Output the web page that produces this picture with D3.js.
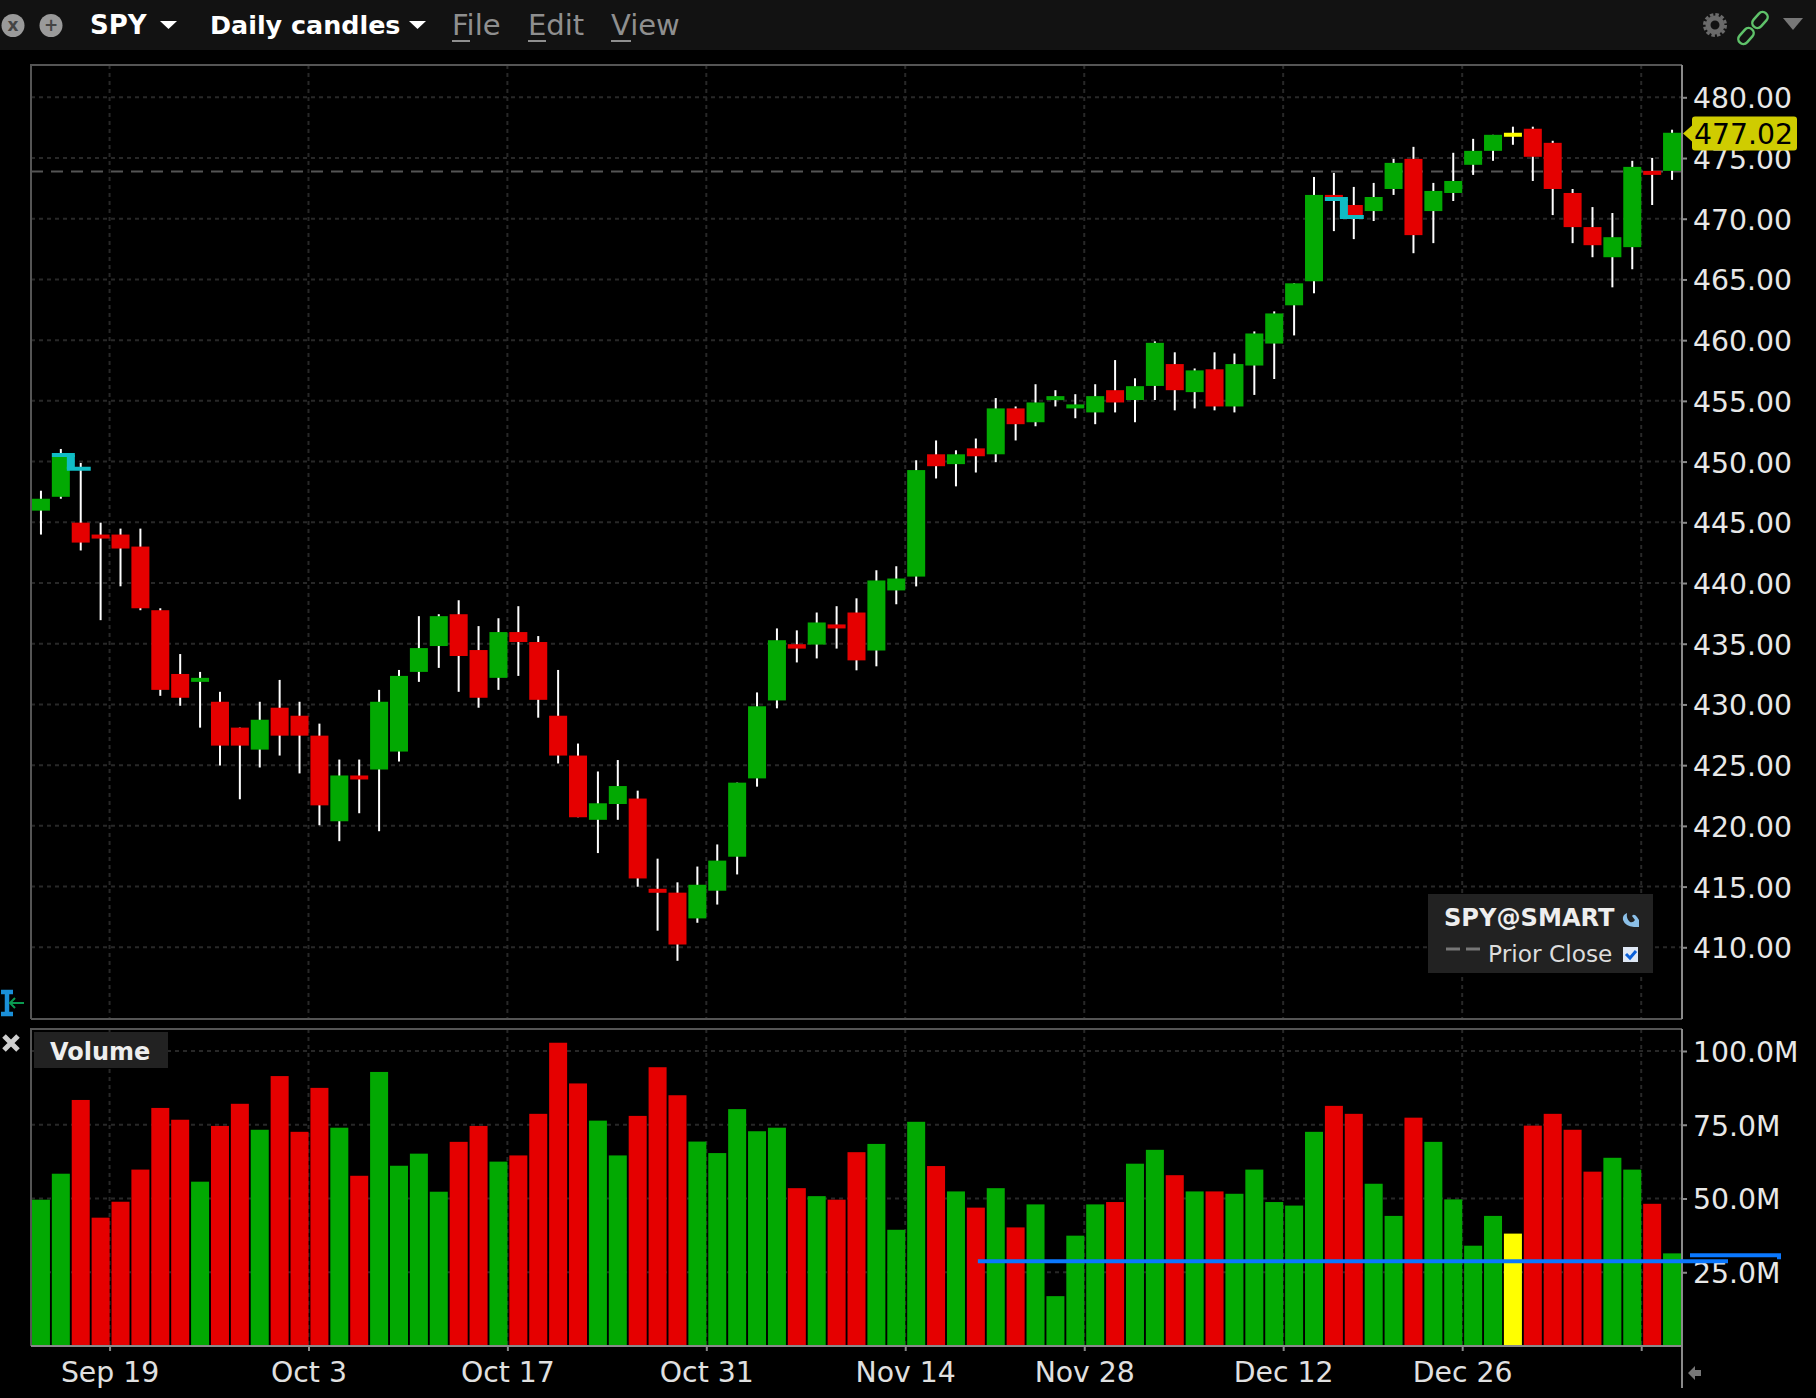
<!DOCTYPE html>
<html><head><meta charset="utf-8">
<script src="https://cdn.jsdelivr.net/npm/d3@7"></script>
<style>
html,body{margin:0;padding:0;background:#000;}
svg{display:block;}
text{font-family:"DejaVu Sans",sans-serif;}
</style></head><body>
<div id="chart"></div>
<script>
// ---- data ----
const opens  = [445.96,447.10,444.97,443.99,443.99,443.00,437.76,432.51,431.86,430.22,428.09,426.28,429.73,429.07,427.43,420.38,424.15,424.64,426.12,432.68,434.81,437.43,434.48,432.19,435.96,435.14,429.07,425.79,420.50,421.80,422.25,414.82,414.50,412.38,414.66,417.46,423.91,430.33,434.96,434.93,436.59,437.57,434.44,439.39,440.53,450.60,449.79,451.09,450.60,454.38,453.24,455.07,454.38,454.05,455.88,455.07,456.23,458.03,455.72,457.60,454.54,457.91,459.72,462.87,464.85,471.96,471.13,470.63,472.45,474.93,470.63,472.12,474.44,475.59,476.75,477.41,476.25,472.12,469.31,466.83,467.66,473.94,473.94];
const closes = [446.94,450.38,443.33,443.66,442.84,437.92,431.20,430.55,432.19,426.61,426.61,428.74,427.43,427.43,421.69,424.15,423.83,430.22,432.35,434.64,437.27,433.99,430.55,435.96,435.14,430.38,425.79,420.71,421.86,423.28,415.67,414.50,410.23,415.15,417.14,423.56,429.85,435.29,434.60,436.75,436.26,433.63,440.21,440.37,449.30,449.62,450.60,450.44,454.38,453.08,454.87,455.39,454.71,455.39,454.87,456.21,459.78,455.88,457.51,454.54,458.03,460.55,462.20,464.68,471.96,471.46,470.30,471.79,474.60,468.65,472.29,473.11,475.59,476.91,477.08,475.10,472.45,469.31,467.82,468.48,474.27,473.61,477.08];
const highs  = [447.60,451.04,449.89,444.97,444.48,444.48,437.92,434.15,432.68,431.04,428.09,430.22,432.02,430.22,428.42,425.46,425.46,431.20,432.84,437.27,437.43,438.58,436.45,437.10,438.09,435.63,432.84,426.78,424.48,425.42,422.90,417.30,415.35,416.65,418.47,423.56,430.99,436.26,436.10,437.57,438.09,438.74,441.05,441.38,450.11,451.74,450.93,451.90,455.23,454.54,456.37,455.88,455.55,456.37,458.36,456.86,459.90,459.00,457.67,459.00,458.90,460.72,462.37,464.68,473.44,473.77,472.62,472.95,474.93,475.92,472.95,475.43,476.58,476.91,477.58,477.58,476.42,472.45,470.96,470.47,474.77,475.01,477.33];
const lows   = [443.99,446.94,442.68,436.94,439.73,437.76,430.71,429.89,428.09,424.97,422.19,424.81,425.79,424.32,420.05,418.74,421.04,419.56,425.30,431.86,433.01,431.04,429.73,431.20,432.35,428.91,425.14,420.71,417.76,420.50,414.99,411.37,408.89,412.02,413.52,416.00,423.23,429.68,433.46,433.79,434.60,432.81,433.14,438.25,439.72,448.61,447.96,449.10,449.95,451.74,452.91,454.54,453.57,453.08,454.05,453.24,455.07,454.22,454.38,454.22,454.05,455.49,456.80,460.39,463.86,468.98,468.32,469.81,471.96,467.16,467.99,471.46,473.61,474.77,476.09,473.11,470.30,467.99,466.83,464.35,465.84,471.13,473.20];
const volumes= [49.6,58.4,83.4,43.5,48.9,59.8,80.7,76.7,55.7,74.6,82.1,73.3,91.5,72.6,87.5,74.0,57.7,92.9,61.1,65.2,52.3,69.2,74.6,62.5,64.6,78.7,102.8,89.0,76.4,64.6,78.0,94.5,85.0,69.3,65.4,80.3,72.8,74.0,53.5,50.8,49.6,65.7,68.5,39.4,76.0,61.0,52.4,46.9,53.5,40.2,48.0,16.9,37.4,48.0,48.8,61.8,66.5,57.9,52.4,52.4,51.6,59.8,48.8,47.6,72.6,81.4,78.7,55.0,44.1,77.4,69.2,49.7,34.0,44.1,38.1,74.7,78.7,73.3,59.1,63.8,59.8,48.2,31.4];
const priceTicks = [480,475,470,465,460,455,450,445,440,435,430,425,420,415,410];
const volumeTicks = [100,75,50,25];
const dateTickIndex = [4,14,24,34,44,53,63,72,81];
const dateTickLabels = ["Sep 19","Oct 3","Oct 17","Oct 31","Nov 14","Nov 28","Dec 12","Dec 26",""];
const priorClose = 473.88;
const lastPrice = 477.02;
const avgVolume = 28.7;
const avgVolumeStart = 47;
const yellowBar = 74;
const highMarker = [[1,450.55],[2,449.40]];
const lowMarker = [[65,471.63],[66,470.14]];

// ---- layout ----
const W=1816,H=1398;
const L=31,R=1682,pTop=65,pBot=1019,vTop=1029,vBot=1346;
const GREEN="#02a902",RED="#e50000",YEL="#ffff00",GRID="#282828",FRAME="#555";
const svg=d3.select("#chart").append("svg").attr("width",W).attr("height",H).style("background","#000");
const x=d3.scaleLinear().domain([0,opens.length]).range([L,R]);
const cx=i=>x(i+0.5);
const tx=d3.scaleLinear().domain([0,opens.length]).range([L-1,R-1]);
const y=d3.scaleLinear().domain([410,480]).range([947.3,97.3]);
const yv=d3.scaleLinear().domain([0,100]).range([vBot,1051]);
const bw=18;

// header
svg.append("rect").attr("width",W).attr("height",50).attr("fill","#121212");
[[13,"x"],[51,"+"]].forEach(([cxx,s])=>{
  svg.append("circle").attr("cx",cxx).attr("cy",25.5).attr("r",11.5).attr("fill","#9a9a9a");
  svg.append("text").attr("x",cxx).attr("y",31).attr("text-anchor","middle").attr("font-size",17).attr("font-weight","bold").attr("fill","#444").text(s);
});
const hdr=(t,xx,yy,w,c,fs)=>svg.append("text").attr("x",xx).attr("y",yy).attr("font-size",fs).attr("font-weight",w).attr("fill",c).text(t);
hdr("SPY",90,34,"bold","#fff",26);
hdr("Daily candles",210,34,"bold","#fff",25.4);
[[160,25],[409,25]].forEach(([px,py])=>svg.append("path").attr("d",`M${px},${py-4}h17l-8.5,8z`).attr("fill","#fff"));
[["File",452,18],["Edit",528,18],["View",611,20]].forEach(([t,xx,u])=>{
  hdr(t,xx,35,"normal","#8f8f8f",29);
  svg.append("rect").attr("x",xx).attr("y",40).attr("width",u).attr("height",2).attr("fill","#8f8f8f");
});
// gear, link, triangle
svg.append("circle").attr("cx",1715).attr("cy",25).attr("r",7).attr("fill","none").attr("stroke","#6a6a6a").attr("stroke-width",5);
svg.append("circle").attr("cx",1715).attr("cy",25).attr("r",10.5).attr("fill","none").attr("stroke","#6a6a6a").attr("stroke-width",3).attr("stroke-dasharray","3.5,2");
[[1746,36],[1760,20]].forEach(([a,b])=>svg.append("rect").attr("x",a-5).attr("y",b-9).attr("width",10).attr("height",18).attr("rx",5)
  .attr("transform",`rotate(42 ${a} ${b})`).attr("fill","none").attr("stroke","#5fc26a").attr("stroke-width",2.5));
svg.append("path").attr("d","M1783,18h20l-10,12z").attr("fill","#777");

// grid
const grid=svg.append("g").attr("stroke",GRID).attr("stroke-width",2).attr("stroke-dasharray","4,4").attr("fill","none");
grid.selectAll(".h").data(priceTicks).join("line").attr("x1",L).attr("x2",R).attr("y1",d=>y(d)).attr("y2",d=>y(d));
grid.selectAll(".hv").data(volumeTicks).join("line").attr("x1",L).attr("x2",R).attr("y1",d=>yv(d)).attr("y2",d=>yv(d));
grid.selectAll(".v").data(dateTickIndex).join("line").attr("x1",d=>tx(d)).attr("x2",d=>tx(d)).attr("y1",pTop).attr("y2",pBot);
grid.selectAll(".vv").data(dateTickIndex).join("line").attr("x1",d=>tx(d)).attr("x2",d=>tx(d)).attr("y1",vTop).attr("y2",vBot);

// prior close
svg.append("line").attr("x1",L).attr("x2",R).attr("y1",y(priorClose)).attr("y2",y(priorClose))
  .attr("stroke","#555").attr("stroke-width",2).attr("stroke-dasharray","12,8");

// candles
const idx=d3.range(opens.length);
const col=i=>i===yellowBar?YEL:(closes[i]>=opens[i]?GREEN:RED);
svg.append("g").selectAll("line").data(idx).join("line")
  .attr("x1",cx).attr("x2",cx).attr("y1",i=>y(highs[i])).attr("y2",i=>y(lows[i]))
  .attr("stroke","#fff").attr("stroke-width",2);
svg.append("g").selectAll("rect").data(idx).join("rect")
  .attr("x",i=>cx(i)-bw/2).attr("width",bw)
  .attr("y",i=>y(Math.max(opens[i],closes[i])))
  .attr("height",i=>Math.max(4,Math.abs(y(opens[i])-y(closes[i]))))
  .attr("fill",col);
// high / low markers
[highMarker,lowMarker].forEach(m=>{
  const a=m[0],b=m[1],c="#10bcc4";
  svg.append("path").attr("fill","none").attr("stroke",c).attr("stroke-width",4)
    .attr("d",`M${cx(a[0])-9},${y(a[1])}H${cx(a[0])+14} M${cx(a[0])+6},${y(b[1])}H${cx(b[0])+10}`);
  svg.append("rect").attr("x",cx(a[0])+6).attr("y",y(a[1])).attr("width",8).attr("height",y(b[1])-y(a[1])).attr("fill",c);
});

// volume
svg.append("g").selectAll("rect").data(idx).join("rect")
  .attr("x",i=>cx(i)-bw/2).attr("width",bw)
  .attr("y",i=>yv(volumes[i])).attr("height",i=>vBot-yv(volumes[i]))
  .attr("fill",col);

// frames
const fr=svg.append("g").attr("fill","none").attr("stroke-width",2);
fr.append("path").attr("d",`M${L},${pBot}V${pTop}H${R}`).attr("stroke",FRAME);
fr.append("path").attr("d",`M${L},${pBot}H${R}`).attr("stroke",FRAME);
fr.append("path").attr("d",`M${R},${pTop}V${pBot}`).attr("stroke","#8a8a8a");
fr.append("path").attr("d",`M${L},${vBot}V${vTop}H${R}`).attr("stroke",FRAME);
fr.append("path").attr("d",`M${L},${vBot}H${R}`).attr("stroke","#8a8a8a");
fr.append("path").attr("d",`M${R},${vTop}V${H-10}`).attr("stroke","#8a8a8a");

// axes
const styleAxis=(g,fs,fill)=>{g.select(".domain").remove();
  g.selectAll("line").attr("stroke","#8a8a8a").attr("stroke-width",2);
  g.selectAll("text").attr("font-size",fs).attr("fill",fill).style("font-family",'"DejaVu Sans",sans-serif');};
svg.append("g").attr("transform",`translate(${R},0)`)
  .call(d3.axisRight(y).tickValues(priceTicks).tickFormat(d3.format(".2f")).tickSize(5).tickPadding(6))
  .call(g=>{styleAxis(g,28.3,"#e8e8e8");g.selectAll("text").attr("dy","0.37em");});
svg.append("g").attr("transform",`translate(${R},0)`)
  .call(d3.axisRight(yv).tickValues(volumeTicks).tickFormat(d=>d.toFixed(1)+"M").tickSize(5).tickPadding(6))
  .call(g=>{styleAxis(g,28.3,"#e8e8e8");g.selectAll("text").attr("dy","0.37em");});
svg.append("g").attr("transform",`translate(0,${vBot})`)
  .call(d3.axisBottom(tx).tickValues(dateTickIndex).tickFormat((d,i)=>dateTickLabels[i]).tickSize(5).tickPadding(11))
  .call(g=>styleAxis(g,28.3,"#e0e0e0"));

// average volume line
svg.append("line").attr("x1",cx(avgVolumeStart)+2).attr("x2",1728).attr("y1",yv(avgVolume)).attr("y2",yv(avgVolume))
  .attr("stroke","#0a78ff").attr("stroke-width",4);
svg.append("path").attr("d",`M1690,${yv(avgVolume)-6}H1779v4`).attr("fill","none").attr("stroke","#0a78ff").attr("stroke-width",4);

// price tag
const ty=y(lastPrice);
svg.append("path").attr("d",`M1683,${ty}L1692,${ty-8}V${ty-14}q0,-3 3,-3H1794q3,0 3,3V${ty+14}q0,3 -3,3H1695q-3,0 -3,-3V${ty+8}Z`).attr("fill","#cfcc00");
svg.append("text").attr("x",1694).attr("y",ty+11).attr("font-size",28.3).attr("fill","#000").text(lastPrice.toFixed(2));

// legend
svg.append("rect").attr("x",1428).attr("y",894).attr("width",225).attr("height",79).attr("fill","#222");
svg.append("text").attr("x",1444).attr("y",926).attr("font-size",24.1).attr("font-weight","bold").attr("fill","#eee").text("SPY@SMART");
svg.append("path").attr("d","M1627,913q-1,6 3,9q3,1 5,-2l-3,-4q2,-3 5,1l2,3v7h-5q-9,-1 -11,-7q-1,-5 4,-7z").attr("fill","#8cc0e8");
svg.append("path").attr("d","M1446,949h14M1466,949h14").attr("stroke","#777").attr("stroke-width",3);
svg.append("text").attr("x",1488).attr("y",962).attr("font-size",23.3).attr("fill","#ddd").text("Prior Close");
svg.append("rect").attr("x",1623).attr("y",947).attr("width",15).attr("height",15).attr("fill","#dfe8f5");
svg.append("path").attr("d","M1626,954l4,4 6,-7").attr("fill","none").attr("stroke","#0a5fd8").attr("stroke-width",3);

// volume label
svg.append("rect").attr("x",34).attr("y",1032).attr("width",134).attr("height",36).attr("fill","#222");
svg.append("text").attr("x",50).attr("y",1060).attr("font-size",24).attr("font-weight","bold").attr("fill","#eee").text("Volume");

// side icons
svg.append("path").attr("d","M4,1036l14,14M18,1036l-14,14").attr("stroke","#cfcfcf").attr("stroke-width",5);
svg.append("path").attr("d","M1,992h12M1,1014h12M7,992v22").attr("stroke","#1a8fd8").attr("stroke-width",4.5).attr("fill","none");
svg.append("path").attr("d","M24,1003H11m4,-5l-5,5 5,5").attr("stroke","#0a9a50").attr("stroke-width",2).attr("fill","none");
svg.append("path").attr("d","M1688,1373l7,-7v4h6v6h-6v4z").attr("fill","#777");
</script>
</body></html>
